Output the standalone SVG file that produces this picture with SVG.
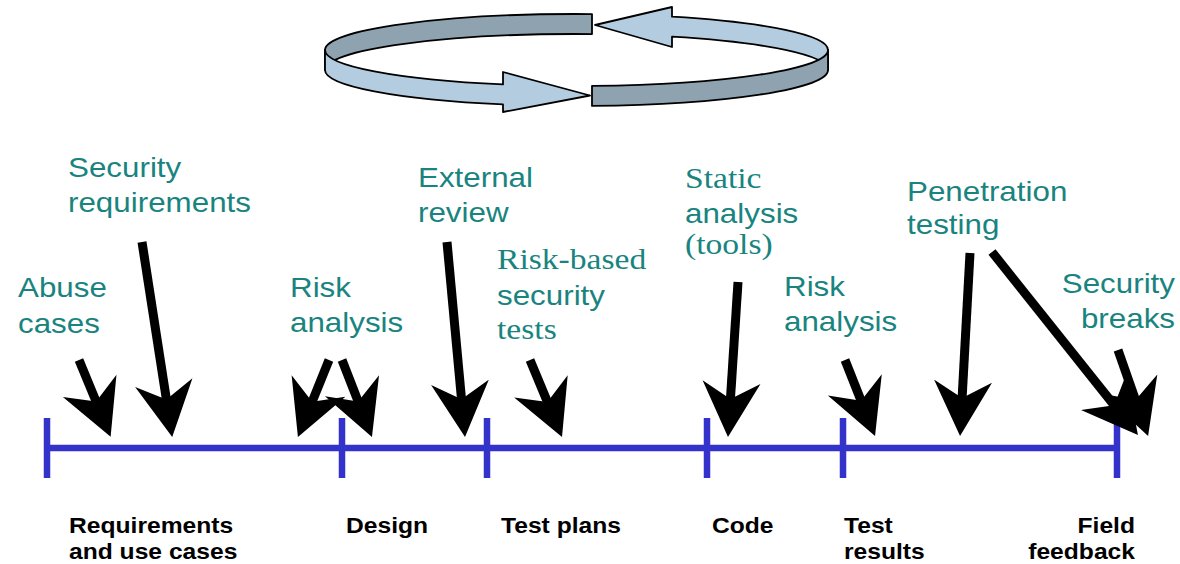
<svg xmlns="http://www.w3.org/2000/svg" width="1180" height="564" viewBox="0 0 1180 564">
  <style>
    .lbl { font-family: "Liberation Sans", Arial, sans-serif; font-size: 28px; fill: #19847f; }
    .ser { font-family: "Liberation Serif", "Times New Roman", serif; font-size: 30px; fill: #19847f; }
    .stage { font-family: "Liberation Sans", Arial, sans-serif; font-size: 22px; font-weight: bold; fill: #000; }
    .end { text-anchor: end; }
    .dark { fill: #8fa2b0; stroke: #000; stroke-width: 1.8; stroke-linejoin: round; }
    .light { fill: #b4cce0; stroke: #000; stroke-width: 1.8; stroke-linejoin: round; }
    .axis { stroke: #3333cc; stroke-width: 6.5; fill: none; }
    .arr { stroke: #000; stroke-width: 9; fill: none; marker-end: url(#head); }
  </style>
  <defs>
    <marker id="head" markerUnits="userSpaceOnUse" orient="auto" viewBox="0 -30 56 60" markerWidth="56" markerHeight="60" refX="19" refY="0">
      <path d="M0,-29 L55,0 L0,29 L17,0 Z" fill="#000"/>
    </marker>
  </defs>
  <rect width="1180" height="564" fill="#fff"/>

  <g id="cycle">
    <path class="dark" d="M325,50 A251.5,36 0 0 1 592,14.07 L592,34.07 A251.5,36 0 0 0 325,70 Z"/>
    <path class="light" d="M672,16.7 A251.5,36 0 0 1 828,50 L828,70 A251.5,36 0 0 0 672,36.7 L672,47 L595,25 L672,7 Z"/>
    <path class="light" d="M325,50 L325,70 A251.5,36 0 0 0 503,104.43 L503,112 L590,95.5 L503,72 L503,84.43 A251.5,36 0 0 1 325,50 Z"/>
    <path class="dark" d="M592,85.93 A251.5,36 0 0 0 828,50 L828,70 A251.5,36 0 0 1 592,105.93 Z"/>
  </g>

  <g id="timeline">
    <line class="axis" x1="47" y1="448" x2="1117" y2="448"/>
    <line class="axis" x1="47" y1="418" x2="47" y2="478"/>
    <line class="axis" x1="342" y1="418" x2="342" y2="478"/>
    <line class="axis" x1="487" y1="418" x2="487" y2="478"/>
    <line class="axis" x1="707" y1="418" x2="707" y2="478"/>
    <line class="axis" x1="843" y1="418" x2="843" y2="478"/>
    <line class="axis" x1="1117" y1="418" x2="1117" y2="478"/>
  </g>

  <g id="connectors">
    <line class="arr" x1="79" y1="360" x2="96.9" y2="403.4"/>
    <line class="arr" x1="142" y1="242" x2="166.7" y2="401.4"/>
    <line class="arr" x1="329" y1="360" x2="311.4" y2="403.6"/>
    <line class="arr" x1="342" y1="360" x2="358.9" y2="403.4"/>
    <line class="arr" x1="447" y1="242" x2="461.7" y2="401.2"/>
    <line class="arr" x1="530" y1="360" x2="548.2" y2="403.8"/>
    <line class="arr" x1="738" y1="282" x2="730.3" y2="401.1"/>
    <line class="arr" x1="845" y1="360" x2="861.8" y2="402.5"/>
    <line class="arr" x1="970" y1="253" x2="962" y2="400.1"/>
    <line class="arr" x1="992" y1="252" x2="1115.5" y2="406.9"/>
    <line class="arr" x1="1118" y1="350" x2="1136.2" y2="402"/>
  </g>

  <g id="n-security-req" transform="scale(1.12 1)">
    <text class="lbl" x="60.71" y="177">Security</text>
    <text class="lbl" x="60.71" y="212">requirements</text>
  </g>
  <g id="n-abuse" transform="scale(1.12 1)">
    <text class="lbl" x="16.07" y="297">Abuse</text>
    <text class="lbl" x="16.07" y="333">cases</text>
  </g>
  <g id="n-risk1" transform="scale(1.12 1)">
    <text class="lbl" x="258.93" y="297">Risk</text>
    <text class="lbl" x="258.93" y="332">analysis</text>
  </g>
  <g id="n-external" transform="scale(1.12 1)">
    <text class="lbl" x="373.21" y="187">External</text>
    <text class="lbl" x="373.21" y="222">review</text>
  </g>
  <g id="n-riskbased" transform="scale(1.12 1)">
    <text class="ser" x="443.75" y="269">Risk-based</text>
    <text class="lbl" x="443.75" y="305">security</text>
    <text class="ser" x="443.75" y="339">tests</text>
  </g>
  <g id="n-static" transform="scale(1.12 1)">
    <text class="ser" x="611.61" y="188">Static</text>
    <text class="lbl" x="611.61" y="223">analysis</text>
    <text class="ser" x="611.61" y="254">(tools)</text>
  </g>
  <g id="n-risk2" transform="scale(1.12 1)">
    <text class="lbl" x="700" y="296">Risk</text>
    <text class="lbl" x="700" y="331">analysis</text>
  </g>
  <g id="n-pentest" transform="scale(1.12 1)">
    <text class="lbl" x="809.82" y="201">Penetration</text>
    <text class="lbl" x="809.82" y="234">testing</text>
  </g>
  <g id="n-breaks" transform="scale(1.12 1)">
    <text class="lbl end" x="1049.11" y="293">Security</text>
    <text class="lbl end" x="1049.11" y="328">breaks</text>
  </g>

  <g id="s-req" transform="scale(1.12 1)">
    <text class="stage" x="61.61" y="533">Requirements</text>
    <text class="stage" x="61.61" y="559">and use cases</text>
  </g>
  <g id="s-design" transform="scale(1.12 1)">
    <text class="stage" x="308.93" y="533">Design</text>
  </g>
  <g id="s-testplans" transform="scale(1.12 1)">
    <text class="stage" x="447.32" y="533">Test plans</text>
  </g>
  <g id="s-code" transform="scale(1.12 1)">
    <text class="stage" x="635.71" y="533">Code</text>
  </g>
  <g id="s-results" transform="scale(1.12 1)">
    <text class="stage" x="753.57" y="533">Test</text>
    <text class="stage" x="753.57" y="559">results</text>
  </g>
  <g id="s-field" transform="scale(1.12 1)">
    <text class="stage end" x="1013.39" y="533">Field</text>
    <text class="stage end" x="1013.39" y="559">feedback</text>
  </g>
</svg>
